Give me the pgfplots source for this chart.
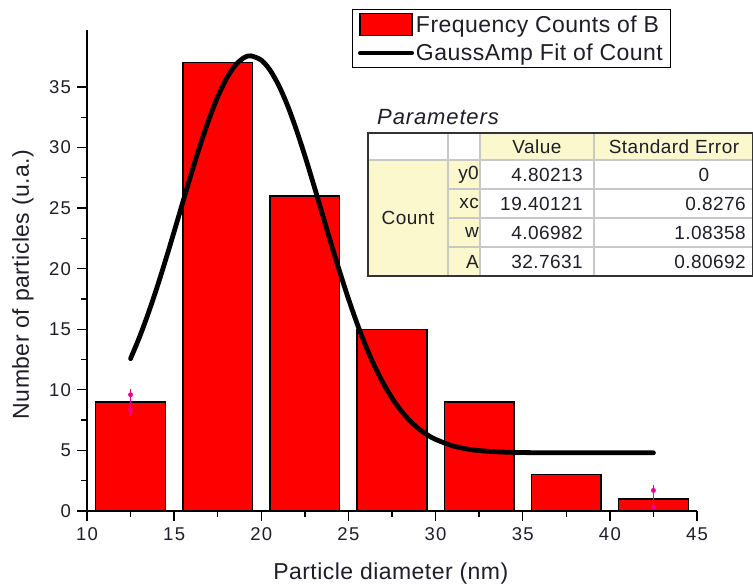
\documentclass[border=0pt]{standalone}
\usepackage{pgfplots}
\pgfplotsset{compat=1.18}
\usepackage{fontspec}
\setmainfont{Liberation Sans}
\newfontfamily\lsA{Liberation Sans}[LetterSpace=2]
\newfontfamily\lsK{Liberation Sans}[LetterSpace=7]
\newfontfamily\lsT{Liberation Sans}[LetterSpace=2.5]
\newfontfamily\lsP{Liberation Sans}[LetterSpace=4]
\definecolor{tblyellow}{RGB}{250,248,204}
\definecolor{tblgrid}{RGB}{200,200,200}
\definecolor{txtdark}{RGB}{30,30,40}
\begin{document}
\begin{tikzpicture}
\begin{axis}[
  scale only axis,
  width=610bp, height=481bp,
  xmin=10, xmax=45, ymin=0, ymax=39.7,
  axis x line=bottom, axis y line=left,
  axis line style={line width=1.3bp, -},
  xtick={10,15,...,45}, ytick={0,5,...,35},
  minor x tick num=1, minor y tick num=1,
  tick align=outside,
  major tick length=9.5bp, minor tick length=5.5bp,
  tick style={line width=1.3bp, black},
  /pgf/number format/assume math mode=true,
  tick label style={font=\lsK\fontsize{18.5bp}{20bp}\selectfont, text=txtdark},
  xticklabel style={yshift=-4bp},
  yticklabel style={xshift=-3bp},
  label style={font=\lsA\fontsize{23bp}{26bp}\selectfont, text=txtdark},
  xlabel={Particle diameter (nm)},
  ylabel={Number of particles (u.a.)},
  xlabel style={at={(rel axis cs:0.498,0)}, anchor=base, yshift=-68bp},
  ylabel style={at={(rel axis cs:-0.105,0.471)}, anchor=center},
  clip=false,
  legend style={at={(rel axis cs:0.4344,1.0437)}, anchor=north west,
    draw=black, line width=1bp,
    font=\lsA\fontsize{23bp}{26bp}\selectfont, text=txtdark,
    inner xsep=5.5bp, inner ysep=3.5bp, row sep=6bp,
    cells={anchor=west}, nodes={inner sep=2bp}},
]
\addplot[ybar, bar width=4, bar shift=0pt, fill=red, draw=black, line width=1.3bp,
  legend image code/.code={\draw[fill=red,draw=black,line width=1.2bp] (0bp,-11bp) rectangle (52bp,11bp);}]
  coordinates {(12.5,9) (17.5,37) (22.5,26) (27.5,15) (32.5,9) (37.5,3) (42.5,1)};
\addlegendentry{Frequency Counts of B}
\addplot[black, line width=4.8bp, smooth, line cap=round,
  legend image code/.code={\draw[black,line width=4bp] (0bp,0bp) -- (52bp,0bp);}]
  coordinates {
  (12.5,12.58) (13,14.31) (13.5,16.25) (14,18.38) (14.5,20.67) (15,23.06)
  (15.5,25.50) (16,27.91) (16.5,30.22) (17,32.33) (17.5,34.18) (18,35.68)
  (18.5,36.77) (19,37.41) (19.4,37.565) (20,37.21) (20.5,36.39) (21,35.13)
  (21.5,33.49) (22,31.52) (22.5,29.32) (23,26.96) (23.5,24.53) (24,22.10)
  (24.5,19.75) (25,17.52) (25.5,15.46) (26,13.60) (26.5,11.96) (27,10.54)
  (27.5,9.33) (28,8.32) (28.5,7.49) (29,6.83) (29.5,6.31) (30,5.91)
  (31,5.37) (32,5.07) (33,4.93) (34,4.855) (35,4.824) (36,4.81) (38,4.802)
  (40,4.802) (42.5,4.802)};
\addlegendentry{GaussAmp Fit of Count}
\addplot[magenta, line width=1.6bp, forget plot] coordinates {(12.5,7.8) (12.5,10.1)};
\addplot[magenta, only marks, mark=*, mark size=2.2bp, forget plot] coordinates {(12.5,9.6) (12.5,8.35)};
\addplot[magenta, line width=1.6bp, forget plot] coordinates {(42.5,0.25) (42.5,2.15)};
\addplot[magenta, only marks, mark=*, mark size=2.2bp, forget plot] coordinates {(42.5,1.7) (42.5,0.33)};
\end{axis}
% parameter table (annotation)
\begin{scope}[x=1bp,y=1bp]
  \fill[white] (281,235) rectangle (666,378);
  \fill[tblyellow] (393,351) rectangle (666,378);
  \fill[tblyellow] (281,235) rectangle (393,351);
  \draw[tblgrid, line width=1.2bp] (281,351) -- (666,351);
  \foreach \yy in {322,293,264} {\draw[tblgrid, line width=1.2bp] (361,\yy) -- (666,\yy);}
  \foreach \xx in {361,393,507} {\draw[tblgrid, line width=1.2bp] (\xx,235) -- (\xx,378);}
  \draw[black!80, line width=1.4bp] (281,235) rectangle (666,378);
  \begin{scope}[every node/.style={font=\lsT\fontsize{19bp}{21bp}\selectfont, text=txtdark, inner sep=0pt}]
    \node at (450,364.5) {Value};
    \node at (587,364.5) {Standard Error};
    \node at (321,293) {Count};
    \node[anchor=east] at (392,336.5) {y0};
    \node[anchor=east] at (392,307.5) {xc};
    \node[anchor=east] at (392,278.5) {w};
    \node[anchor=east] at (392,249.5) {A};
    \node[anchor=east] at (496,336.5) {4.80213};
    \node[anchor=east] at (496,307.5) {19.40121};
    \node[anchor=east] at (496,278.5) {4.06982};
    \node[anchor=east] at (496,249.5) {32.7631};
    \node at (617,336.5) {0};
    \node[anchor=east] at (659,307.5) {0.8276};
    \node[anchor=east] at (659,278.5) {1.08358};
    \node[anchor=east] at (659,249.5) {0.80692};
  \end{scope}
  \node[anchor=base west, inner sep=0pt, font=\lsP\fontsize{22bp}{24bp}\selectfont\itshape, text=txtdark] at (290,387) {Parameters};
\end{scope}
\pgfresetboundingbox
\path[use as bounding box] (-87bp,-75bp) rectangle (666bp,511bp);
\end{tikzpicture}
\end{document}
